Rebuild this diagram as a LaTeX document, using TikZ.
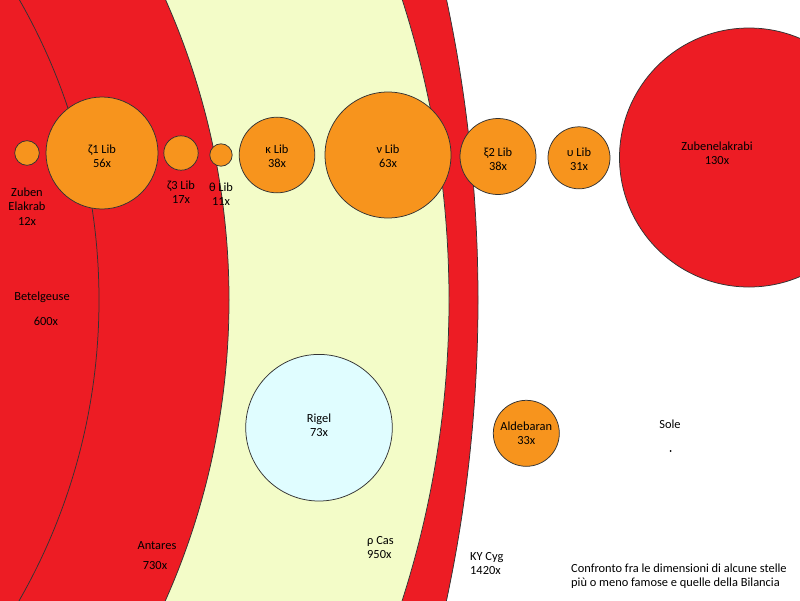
\documentclass[tikz,border=0pt]{standalone}
\usepackage{fontspec}
\setmainfont{Carlito}
\definecolor{starred}{RGB}{237,28,36}
\definecolor{starorange}{RGB}{247,148,29}
\definecolor{staryellow}{RGB}{243,252,200}
\definecolor{starcyan}{RGB}{224,253,255}
\tikzset{
  outline/.style={draw=black!80, line width=0.75pt},
  redstar/.style={outline, fill=starred},
  orangestar/.style={outline, fill=starorange},
  lbl/.style={font=\fontsize{12.4}{14}\selectfont, align=center, inner sep=0pt, text=black},
  lbll/.style={lbl, align=left, anchor=west}
}
\begin{document}
\begin{tikzpicture}[x=1pt,y=-1pt]
\useasboundingbox (0,0) rectangle (800,600);
\clip (0,0) rectangle (800,600);
\fill[white] (0,0) rectangle (800,600);
% giant stars
\draw[redstar] (-957,300) circle[radius=1435pt];
\draw[outline, fill=staryellow] (-533,300) circle[radius=982pt];
\draw[redstar] (-511,300) circle[radius=740pt];
\draw[redstar] (-506,300) circle[radius=605pt];
% Libra stars
\draw[orangestar] (27,153) circle[radius=12.3pt];
\draw[orangestar] (102,153) circle[radius=56pt];
\draw[orangestar] (181,153) circle[radius=17.2pt];
\draw[orangestar] (221,155) circle[radius=11.2pt];
\draw[orangestar] (277,155) circle[radius=37.8pt];
\draw[orangestar] (388,155) circle[radius=63pt];
\draw[orangestar] (498,156.5) circle[radius=38pt];
\draw[orangestar] (579,157.8) circle[radius=31pt];
\draw[redstar] (749,157.5) circle[radius=129.5pt];
% others
\draw[outline, fill=starcyan] (319,427.7) circle[radius=73.3pt];
\draw[orangestar] (526.3,433.3) circle[radius=33pt];
\fill[black] (670.7,451) circle[radius=1pt];
% labels
\node[lbl] (zeA) at (27,199) {Zuben\\Elakrab};
\node[lbl] (zeB) at (27,221) {12x};
\node[lbl] (z1) at (102,156) {ζ1 Lib\\56x};
\node[lbl] (z3) at (181,192) {ζ3 Lib\\17x};
\node[lbl] (th) at (221,194) {θ Lib\\11x};
\node[lbl] (ka) at (277,156) {κ Lib\\38x};
\node[lbl] (nu) at (388,156) {ν Lib\\63x};
\node[lbl] (xi) at (498,159) {ξ2 Lib\\38x};
\node[lbl] (up) at (579,159.5) {υ Lib\\31x};
\node[lbl] (zu) at (717,153) {Zubenelakrabi\\130x};
\node[lbl] (beA) at (42,297) {Betelgeuse};
\node[lbl] (beB) at (46,321) {600x};
\node[lbl] (ri) at (319,425) {Rigel\\73x};
\node[lbl] (anA) at (157,546) {Antares};
\node[lbl] (anB) at (155,566) {730x};
\node[lbll] (rc) at (367,548) {ρ Cas\\950x};
\node[lbll] (ky) at (470,564) {KY Cyg\\1420x};
\node[lbl] (al) at (526.3,433) {Aldebaran\\33x};
\node[lbl] (so) at (670,424) {Sole};
\node[lbll] (cap) at (571,576.5) {Confronto fra le dimensioni di alcune stelle\\più o meno famose e quelle della Bilancia};
\end{tikzpicture}
\end{document}
